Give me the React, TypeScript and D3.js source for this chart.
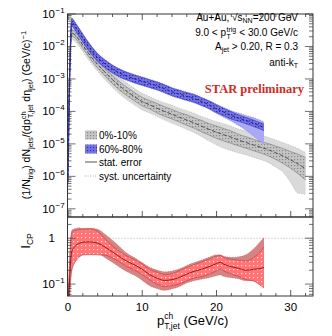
import React from 'react';
import * as d3 from 'd3';

// 0%-10% (central) jet yield
const ptCentral = [0, 0.5, 1, 1.5, 2, 3, 4, 5, 6, 7, 8, 9, 10, 11, 12, 13, 14, 15, 16, 17, 18, 19, 20, 21, 22, 23, 24, 25, 26, 27, 28, 29, 30, 31, 32];
const yieldCentral = [2e-5, 0.026, 0.022, 0.016, 0.011, 0.0052, 0.0028, 0.0016, 0.00095, 0.0006, 0.0004, 0.00028, 0.0002, 0.00016, 0.000125, 0.0001, 8.2e-5, 6.6e-5, 5.4e-5, 4.4e-5, 3.5e-5, 2.8e-5, 2.3e-5, 1.9e-5, 1.6e-5, 1.3e-5, 1.1e-5, 9.2e-6, 7.8e-6, 6.6e-6, 5.3e-6, 4.2e-6, 3.2e-6, 2.4e-6, 1.7e-6];
const centralSystUp = [1.5, 1.6, 1.6, 1.6, 1.6, 1.6, 1.65, 1.7, 1.75, 1.8, 1.8, 1.8, 1.8, 1.8, 1.8, 1.85, 1.9, 1.9, 1.95, 2.0, 2.0, 2.1, 2.1, 2.2, 2.2, 2.2, 2.3, 2.3, 2.4, 2.4, 2.5, 2.6, 2.8, 3.0, 3.2];
const centralSystDown = [1.5, 1.6, 1.6, 1.6, 1.6, 1.6, 1.65, 1.7, 1.75, 1.8, 1.8, 1.8, 1.8, 1.8, 1.8, 1.85, 1.9, 1.9, 1.95, 2.0, 2.1, 2.3, 2.5, 2.6, 2.6, 2.5, 2.4, 2.4, 2.4, 2.5, 2.8, 3.2, 5.0, 8.0, 6.0];
const centralStat = [1.2, 1.25, 1.25, 1.25, 1.25, 1.25, 1.3, 1.3, 1.35, 1.35, 1.35, 1.35, 1.35, 1.35, 1.4, 1.4, 1.4, 1.4, 1.45, 1.45, 1.5, 1.5, 1.55, 1.55, 1.55, 1.5, 1.5, 1.5, 1.5, 1.55, 1.6, 1.7, 1.8, 2.0, 2.2];

// 60%-80% (peripheral) jet yield
const ptPeripheral = [0, 0.5, 1, 1.5, 2, 3, 4, 5, 6, 7, 8, 9, 10, 11, 12, 13, 14, 15, 16, 17, 18, 19, 20, 21, 22, 23, 24, 25, 26, 26.4];
const yieldPeripheral = [7e-7, 0.055, 0.04, 0.027, 0.018, 0.0085, 0.0045, 0.0029, 0.002, 0.0015, 0.0012, 0.001, 0.00085, 0.00072, 0.00061, 0.0005, 0.0004, 0.00034, 0.00029, 0.00025, 0.0002, 0.00016, 0.00012, 9.5e-5, 7.5e-5, 6.2e-5, 5.2e-5, 4.3e-5, 3.5e-5, 3.2e-5];
const periSystUp = [1.3, 1.37, 1.37, 1.37, 1.37, 1.37, 1.37, 1.37, 1.37, 1.37, 1.37, 1.37, 1.37, 1.37, 1.37, 1.37, 1.37, 1.37, 1.37, 1.37, 1.37, 1.37, 1.4, 1.4, 1.4, 1.45, 1.45, 1.5, 1.5, 1.5];
const periSystDown = [1.3, 1.37, 1.37, 1.37, 1.37, 1.37, 1.37, 1.37, 1.37, 1.37, 1.37, 1.37, 1.37, 1.37, 1.37, 1.37, 1.37, 1.37, 1.37, 1.37, 1.37, 1.37, 1.4, 1.45, 1.5, 1.7, 2.0, 2.5, 3.0, 3.3];
const periStat = [1.2, 1.3, 1.3, 1.3, 1.3, 1.3, 1.3, 1.3, 1.3, 1.3, 1.3, 1.3, 1.3, 1.3, 1.3, 1.3, 1.3, 1.3, 1.3, 1.3, 1.3, 1.3, 1.3, 1.3, 1.3, 1.25, 1.25, 1.25, 1.25, 1.25];

// I_CP ratio
const ptIcp = [0, 0.5, 1, 1.5, 2, 3, 4, 5, 6, 7, 8, 9, 10, 11, 12, 13, 14, 15, 16, 17, 18, 19, 20, 20.5, 21, 22, 23, 24, 25, 26, 26.4];
const icp = [0.02, 0.5, 0.68, 0.77, 0.82, 0.83, 0.78, 0.64, 0.5, 0.39, 0.31, 0.26, 0.21, 0.16, 0.135, 0.12, 0.125, 0.14, 0.165, 0.19, 0.21, 0.24, 0.28, 0.3, 0.27, 0.24, 0.22, 0.2, 0.21, 0.22, 0.23];
const icpSystUp = [2, 3, 2.4, 2.2, 2.0, 2.0, 2.0, 1.9, 1.8, 1.65, 1.5, 1.45, 1.4, 1.45, 1.5, 1.55, 1.55, 1.55, 1.55, 1.55, 1.6, 1.6, 1.55, 1.45, 1.5, 1.6, 1.8, 2.2, 2.8, 4.0, 4.5];
const icpSystDown = [2, 1.8, 1.75, 1.75, 1.75, 1.75, 1.7, 1.7, 1.7, 1.7, 1.7, 1.7, 1.75, 1.75, 1.7, 1.65, 1.6, 1.6, 1.57, 1.6, 1.65, 1.75, 1.85, 1.9, 1.85, 1.75, 1.7, 1.7, 1.75, 1.85, 1.9];
const icpStat = [1.8, 2.6, 2.2, 2.0, 1.9, 1.9, 1.8, 1.5, 1.35, 1.3, 1.3, 1.3, 1.3, 1.3, 1.35, 1.35, 1.35, 1.4, 1.4, 1.4, 1.45, 1.45, 1.45, 1.4, 1.4, 1.45, 1.5, 1.6, 1.8, 2.4, 2.8];

const xTickLabels = [0, 10, 20, 30];
const topExponents = [-1, -2, -3, -4, -5, -6, -7];
const legendLabels = ['0%-10%', '60%-80%', 'stat. error', 'syst. uncertainty'];

const FONT = 'Liberation Sans, Arial, Helvetica, sans-serif';
const L = 67.5, R = 313, T = 14, MID = 217, B = 296;

const x = d3.scaleLinear().domain([0, 33]).range([68, 313]);
const yTop = d3.scaleLog().domain([5.6e-8, 0.1]).range([MID, T]);
const yBot = d3.scaleLog().domain([0.055, 2.9]).range([B, MID]);

function logTicks(lo: number, hi: number) {
  const out: { v: number; major: boolean }[] = [];
  for (let e = Math.floor(Math.log10(lo)); e <= Math.ceil(Math.log10(hi)); e++) {
    for (let m = 1; m <= 9; m++) {
      const v = m * Math.pow(10, e);
      if (v >= lo * 0.999 && v <= hi * 1.001) out.push({ v, major: m === 1 });
    }
  }
  return out;
}

function band(pt: number[], val: number[], up: number[], down: number[], y: any) {
  const pts = pt.map((p, i) => ({ p, hi: val[i] * up[i], lo: val[i] / down[i] }));
  const area = d3.area<any>().x(d => x(d.p)).y0(d => y(d.lo)).y1(d => y(d.hi)).curve(d3.curveMonotoneX);
  const top = d3.line<any>().x(d => x(d.p)).y(d => y(d.hi)).curve(d3.curveMonotoneX);
  const bot = d3.line<any>().x(d => x(d.p)).y(d => y(d.lo)).curve(d3.curveMonotoneX);
  return { area: area(pts) || '', top: top(pts) || '', bot: bot(pts) || '' };
}

function centerLine(pt: number[], val: number[], y: any) {
  return d3.line<number>().x((_, i) => x(pt[i])).y(v => y(v)).curve(d3.curveMonotoneX)(val) || '';
}

function Series({ pt, val, up, down, stat, y, systFill, statFill, edge, lineColor, dash, clip }: any) {
  const syst = band(pt, val, up, down, y);
  const st = band(pt, val, stat, stat, y);
  return (
    <g clipPath={`url(#${clip})`}>
      <path d={syst.area} fill={systFill} />
      <path d={syst.top} fill="none" stroke={edge} strokeWidth={0.5} strokeDasharray="1,1.5" opacity={0.7} />
      <path d={syst.bot} fill="none" stroke={edge} strokeWidth={0.5} strokeDasharray="1,1.5" opacity={0.7} />
      <path d={st.area} fill={statFill} />
      <path d={st.top} fill="none" stroke={edge} strokeWidth={0.6} />
      <path d={st.bot} fill="none" stroke={edge} strokeWidth={0.6} />
      <path d={centerLine(pt, val, y)} fill="none" stroke={lineColor} strokeWidth={0.9} strokeDasharray={dash} />
    </g>
  );
}

export default function App() {
  const topY = logTicks(5.6e-8, 0.1);
  const botY = logTicks(0.055, 2.9);
  const xMinor = d3.range(0, 33.1, 2);
  const legendY = [135, 149, 162, 176];

  return (
    <svg width={332} height={336} style={{ position: 'absolute', left: 0, top: 0, background: '#fff' }} fontFamily={FONT}>
      <defs>
        <clipPath id="clipTop"><rect x={L} y={T} width={R - L} height={MID - T} /></clipPath>
        <clipPath id="clipBot"><rect x={L} y={MID} width={R - L} height={B - MID} /></clipPath>
        <pattern id="grayDots" width={3} height={3} patternUnits="userSpaceOnUse">
          <rect width={3} height={3} fill="#c4c4c4" />
          <rect width={1.2} height={1.2} fill="#8a8a8a" />
        </pattern>
        <pattern id="blueDots" width={3} height={3} patternUnits="userSpaceOnUse">
          <rect width={3} height={3} fill="#7474e4" />
          <rect width={1.2} height={1.2} fill="#2c2ca8" />
        </pattern>
        <pattern id="redDots" width={4} height={4} patternUnits="userSpaceOnUse">
          <rect width={4} height={4} fill="#ff7474" />
          <rect x={1} y={1} width={1.2} height={1.2} fill="#ffd8d8" />
        </pattern>
      </defs>

      {/* top panel curves */}
      <Series pt={ptCentral} val={yieldCentral} up={centralSystUp} down={centralSystDown} stat={centralStat} y={yTop}
        systFill="#dadada" statFill="url(#grayDots)" edge="#777" lineColor="#444" dash="4,2" clip="clipTop" />
      <Series pt={ptPeripheral} val={yieldPeripheral} up={periSystUp} down={periSystDown} stat={periStat} y={yTop}
        systFill="#a9a9f6" statFill="url(#blueDots)" edge="#3030b8" lineColor="#1c1c90" dash="3,2" clip="clipTop" />

      {/* bottom panel */}
      <line x1={L} x2={R} y1={yBot(1)} y2={yBot(1)} stroke="#999" strokeWidth={0.8} strokeDasharray="1,2" />
      <Series pt={ptIcp} val={icp} up={icpSystUp} down={icpSystDown} stat={icpStat} y={yBot}
        systFill="#d88282" statFill="url(#redDots)" edge="#b04040" lineColor="#8a1010" dash="none" clip="clipBot" />

      {/* frames */}
      <rect x={L} y={T} width={R - L} height={MID - T} fill="none" stroke="#333" strokeWidth={1} />
      <rect x={L} y={MID} width={R - L} height={B - MID} fill="none" stroke="#333" strokeWidth={1} />

      {/* x ticks */}
      {xMinor.map(v => {
        const len = v % 10 === 0 ? 6 : 3;
        return (
          <g key={'xt' + v} stroke="#333" strokeWidth={0.8}>
            <line x1={x(v)} x2={x(v)} y1={MID} y2={MID - len} />
            <line x1={x(v)} x2={x(v)} y1={T} y2={T + len} />
            <line x1={x(v)} x2={x(v)} y1={B} y2={B - len} />
          </g>
        );
      })}

      {/* y ticks */}
      {topY.map(t => {
        const len = t.major ? 8 : 4;
        return (
          <g key={'yt' + t.v} stroke="#333" strokeWidth={0.7}>
            <line x1={L} x2={L + len} y1={yTop(t.v)} y2={yTop(t.v)} />
            <line x1={R} x2={R - len} y1={yTop(t.v)} y2={yTop(t.v)} />
          </g>
        );
      })}
      {botY.map(t => {
        const len = t.major ? 8 : 4;
        return (
          <g key={'yb' + t.v} stroke="#333" strokeWidth={0.7}>
            <line x1={L} x2={L + len} y1={yBot(t.v)} y2={yBot(t.v)} />
            <line x1={R} x2={R - len} y1={yBot(t.v)} y2={yBot(t.v)} />
          </g>
        );
      })}

      {/* y tick labels */}
      {topExponents.map(e => (
        <g key={'yl' + e}>
          <text x={55} y={yTop(Math.pow(10, e)) + 4} textAnchor="end" fontSize={11.5}>10</text>
          <text x={55.5} y={yTop(Math.pow(10, e)) - 1} fontSize={8}>{'\u2212' + Math.abs(e)}</text>
        </g>
      ))}
      <text x={55} y={yBot(1) + 4} textAnchor="end" fontSize={11.5}>1</text>
      <text x={55} y={yBot(0.1) + 4} textAnchor="end" fontSize={11.5}>10</text>
      <text x={55.5} y={yBot(0.1) - 1} fontSize={8}>{'\u22121'}</text>

      {/* x tick labels */}
      {xTickLabels.map(v => (
        <text key={'xl' + v} x={x(v)} y={311} textAnchor="middle" fontSize={11.5}>{v}</text>
      ))}

      {/* axis titles */}
      <text x={157} y={325} fontSize={13}>
        p<tspan fontSize={8.5} dy={-6}>ch</tspan><tspan fontSize={8.5} dx={-9} dy={10}>T,jet</tspan><tspan dy={-4}>{'  (GeV/c)'}</tspan>
      </text>
      <text transform="translate(30,115) rotate(-90)" textAnchor="middle" fontSize={10.5}>
        (1/N<tspan fontSize={7.5} dy={3}>trig</tspan><tspan dy={-3}>) dN</tspan><tspan fontSize={7.5} dy={3}>jets</tspan>
        <tspan dy={-3}>/(dp</tspan><tspan fontSize={7.5} dy={-4}>ch</tspan><tspan fontSize={7.5} dx={-7} dy={7}>T,jet</tspan>
        <tspan dy={-3}> d{'\u03B7'}</tspan><tspan fontSize={7.5} dy={3}>jet</tspan><tspan dy={-3}>)  (GeV/c)</tspan>
        <tspan fontSize={7.5} dy={-4}>{'\u22121'}</tspan>
      </text>
      <text transform="translate(30,241) rotate(-90)" textAnchor="middle" fontSize={13}>
        I<tspan fontSize={8.5} dy={3}>CP</tspan>
      </text>

      {/* annotations */}
      <g fontSize={10}>
        <text x={298} y={21} textAnchor="end">Au+Au, {'\u221A'}s<tspan fontSize={7} dy={2}>NN</tspan><tspan dy={-2}>=200 GeV</tspan></text>
        <text x={226} y={36} textAnchor="end">9.0 &lt; p</text>
        <text x={226.5} y={32} fontSize={7}>trig</text>
        <text x={226.5} y={39} fontSize={7}>T</text>
        <text x={298} y={36} textAnchor="end">&lt; 30.0 GeV/c</text>
        <text x={298} y={50} textAnchor="end">A<tspan fontSize={7} dy={2}>jet</tspan><tspan dy={-2}> &gt; 0.20, R = 0.3</tspan></text>
        <text x={298} y={66} textAnchor="end">anti-k<tspan fontSize={7} dy={2}>T</tspan></text>
      </g>
      <text x={304} y={93} textAnchor="end" fontSize={12.5} fontWeight="bold" fontFamily="Liberation Serif, Times New Roman, serif" fill="#d02a24">STAR preliminary</text>

      {/* legend */}
      <rect x={85} y={legendY[0] - 4.5} width={12} height={9} fill="url(#grayDots)" />
      <rect x={85} y={legendY[1] - 4.5} width={12} height={9} fill="url(#blueDots)" />
      <line x1={85} x2={97} y1={legendY[2]} y2={legendY[2]} stroke="#555" strokeWidth={1} />
      <line x1={85} x2={97} y1={legendY[3]} y2={legendY[3]} stroke="#aaa" strokeWidth={1} strokeDasharray="1,1.5" />
      {legendLabels.map((l, i) => (
        <text key={l} x={99} y={legendY[i] + 3.5} fontSize={10}>{l}</text>
      ))}
    </svg>
  );
}
